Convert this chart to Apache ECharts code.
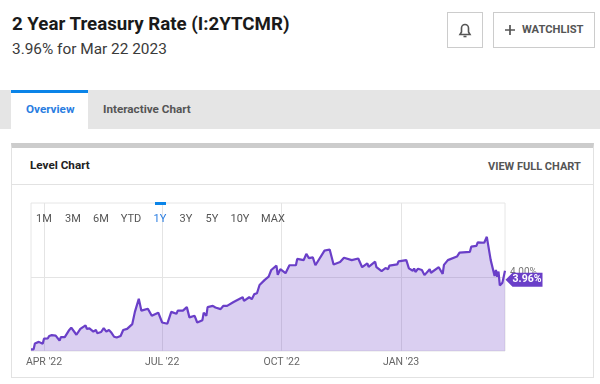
<!DOCTYPE html>
<html>
<head>
<meta charset="utf-8">
<script src="https://cdn.jsdelivr.net/npm/echarts@6/dist/echarts.min.js"></script>
<style>
  html, body { margin: 0; padding: 0; background: #fff; }
  body { width: 600px; height: 384px; position: relative; overflow: hidden; font-family: Roboto, sans-serif; }
  .abs { position: absolute; white-space: nowrap; }
  .title { left: 12px; top: 12px; font-size: 18.7px; line-height: 24px; font-weight: 700; color: #1a1a1a; }
  .sub { left: 12px; top: 39px; font-size: 15.4px; line-height: 20px; color: #3a3a3a; }
  .btn { top: 12px; height: 34px; border: 1px solid #ccc; box-sizing: content-box; }
  .tabs { left: 0; top: 90px; width: 600px; height: 39px; background: #e5e5e5; }
  .tab-on { left: 11px; top: 90px; width: 77px; height: 39px; background: #fff; border-top: 3px solid #0a84e8; box-sizing: border-box; }
  .tab { top: 101px; font-size: 11.7px; line-height: 16px; font-weight: 700; }
  .card { left: 11px; top: 143px; width: 583px; height: 235px; border: 1px solid #e2e2e2; border-top: 5px solid #ccc; box-sizing: border-box; }
  .divider { left: 12px; top: 184px; width: 581px; height: 1px; background: #e2e2e2; }
  .range { top: 212px; font-size: 11px; line-height: 14px; color: #555; transform: translateX(-50%); z-index: 2; }
  #chart { position: absolute; left: 0; top: 0; width: 600px; height: 384px; z-index: 1; }
</style>
</head>
<body>
  <div class="abs title">2 Year Treasury Rate (I:2YTCMR)</div>
  <div class="abs sub">3.96% for Mar 22 2023</div>

  <div class="abs btn" style="left:447px;width:34px">
    <svg width="34" height="34" viewBox="0 0 34 34" fill="none" stroke="#555" stroke-width="1.6">
      <path d="M12 21.5h10l-1.5-2.5v-4a3.5 3.5 0 0 0-7 0v4z"/><path d="M15.5 23.5h3"/>
    </svg>
  </div>
  <div class="abs btn" style="left:493px;width:100px">
    <svg class="abs" style="left:10px;top:11px" width="12" height="12" fill="none" stroke="#555" stroke-width="1.7"><path d="M6 1v10M1 6h10"/></svg>
    <span class="abs" style="left:28px;top:10px;font-size:11.2px;line-height:14px;font-weight:700;color:#555">WATCHLIST</span>
  </div>

  <div class="abs tabs"></div>
  <div class="abs tab-on"></div>
  <div class="abs tab" style="left:26px;color:#2a7de1">Overview</div>
  <div class="abs tab" style="left:103px;color:#555">Interactive Chart</div>

  <div class="abs card"></div>
  <div class="abs divider"></div>
  <div class="abs tab" style="left:30px;top:157px;color:#222">Level Chart</div>
  <div class="abs tab" style="left:488px;top:159px;font-size:11px;color:#555">VIEW FULL CHART</div>

  <div id="chart"></div>

<script>
// days since Mar 22 2022
const days = [0, 2, 3, 6, 9, 10, 13, 14, 16, 19, 22, 23, 26, 29, 31, 35, 38, 42, 43, 45, 48, 50, 51, 54, 56, 58, 60, 62, 64, 66, 69, 71, 74, 78, 80, 83, 85, 90, 93, 98, 101, 105, 108, 112, 113, 117, 120, 122, 126, 128, 132, 133, 135, 136, 140, 142, 146, 148, 151, 156, 163, 164, 168, 170, 172, 174, 176, 180, 183, 185, 189, 190, 192, 196, 199, 204, 205, 210, 212, 214, 217, 219, 226, 230, 233, 238, 239, 241, 247, 252, 255, 259, 260, 265, 266, 270, 273, 275, 276, 282, 283, 289, 291, 294, 295, 296, 298, 301, 303, 307, 308, 314, 317, 318, 321, 328, 330, 338, 339, 343, 344, 349, 351, 354, 357, 358, 359, 360, 361, 363, 365]
const rates = [2.18, 2.18, 2.33, 2.37, 2.32, 2.45, 2.46, 2.52, 2.54, 2.53, 2.40, 2.49, 2.49, 2.65, 2.73, 2.55, 2.70, 2.79, 2.70, 2.71, 2.63, 2.67, 2.59, 2.62, 2.72, 2.63, 2.67, 2.60, 2.50, 2.48, 2.52, 2.67, 2.70, 2.82, 3.13, 3.46, 3.16, 3.21, 3.03, 3.11, 2.86, 2.83, 3.13, 3.08, 3.16, 3.16, 3.25, 2.99, 3.03, 2.86, 2.92, 3.11, 3.03, 3.25, 3.28, 3.24, 3.20, 3.28, 3.28, 3.38, 3.50, 3.41, 3.50, 3.45, 3.58, 3.60, 3.81, 3.94, 4.02, 4.19, 4.30, 4.07, 4.21, 4.11, 4.31, 4.31, 4.47, 4.44, 4.60, 4.49, 4.51, 4.31, 4.68, 4.71, 4.33, 4.39, 4.34, 4.50, 4.44, 4.48, 4.26, 4.36, 4.27, 4.40, 4.26, 4.16, 4.24, 4.21, 4.30, 4.33, 4.41, 4.44, 4.23, 4.17, 4.23, 4.14, 4.22, 4.19, 4.06, 4.21, 4.12, 4.26, 4.09, 4.32, 4.44, 4.53, 4.63, 4.65, 4.78, 4.80, 4.89, 4.88, 5.03, 4.44, 4.04, 4.19, 4.02, 4.15, 3.80, 3.87, 4.17]

const xTicks = [10, 101, 193, 285]
const xLabels = ["APR '22", "JUL '22", "OCT '22", "JAN '23"]
const yTicks = [4]
const yLabels = ['4.00%']
const latestLabel = '3.96%'
const ranges = ['1M', '3M', '6M', 'YTD', '1Y', '3Y', '5Y', '10Y', 'MAX']
const rangeCenters = [44, 73, 101, 131, 160, 186, 212, 240, 273]
const activeRange = '1Y'

// range buttons sit on top of the plot
ranges.forEach((r, i) => {
  const el = document.createElement('div')
  el.className = 'abs range'
  el.style.left = rangeCenters[i] + 'px'
  el.textContent = r
  if (r === activeRange) {
    el.style.color = '#2a7de1'
    const bar = document.createElement('div')
    bar.className = 'abs'
    bar.style.cssText = 'left:' + (rangeCenters[i] - 5.5) + 'px;top:202px;width:11px;height:3px;background:#0a84e8;z-index:2'
    document.body.appendChild(bar)
  }
  document.body.appendChild(el)
})

const chart = echarts.init(document.getElementById('chart'))
chart.setOption({
  animation: false,
  backgroundColor: 'transparent',
  grid: {
    show: true,
    left: 31,
    right: 95,
    top: 203,
    bottom: 33,
    borderColor: '#e6e6e6',
    borderWidth: 1,
  },
  xAxis: {
    type: 'value',
    min: 0,
    max: 365,
    axisLine: { show: false },
    axisTick: { show: false, customValues: xTicks },
    axisLabel: {
      customValues: xTicks,
      color: '#666',
      fontFamily: 'Roboto',
      fontSize: 10.5,
      margin: 6,
      formatter: (v) => xLabels[xTicks.indexOf(v)],
    },
    splitLine: { show: true, lineStyle: { color: '#e4e4e4', width: 1 } },
  },
  yAxis: {
    type: 'value',
    position: 'right',
    min: 2.139,
    max: 5.886,
    axisLine: { show: false },
    axisTick: { show: false, customValues: yTicks },
    axisLabel: {
      customValues: yTicks,
      color: '#777',
      fontFamily: 'Roboto',
      fontSize: 10,
      margin: 5,
      verticalAlign: 'bottom',
      formatter: (v) => yLabels[yTicks.indexOf(v)],
    },
    splitLine: { show: true, lineStyle: { color: '#e4e4e4', width: 1 } },
  },
  series: [
    {
      type: 'line',
      data: days.map((d, i) => [d, rates[i]]),
      showSymbol: false,
      lineStyle: { color: '#6a3fc8', width: 2.2 },
      areaStyle: { color: '#6a3fc8', opacity: 0.25 },
      markPoint: {
        silent: true,
        data: [{ coord: [365, 3.94] }],
        symbol: 'path://M0 7 L7 0 L37 0 L37 14 L7 14 Z',
        symbolSize: [37, 14],
        symbolKeepAspect: false,
        symbolOffset: [19, 0],
        itemStyle: { color: '#6a3fc8' },
        label: {
          show: true,
          formatter: latestLabel,
          color: '#fff',
          fontFamily: 'Roboto',
          fontWeight: 700,
          fontSize: 10.5,
          position: 'inside',
          offset: [3, 0],
        },
      },
    },
  ],
})
</script>
</body>
</html>
